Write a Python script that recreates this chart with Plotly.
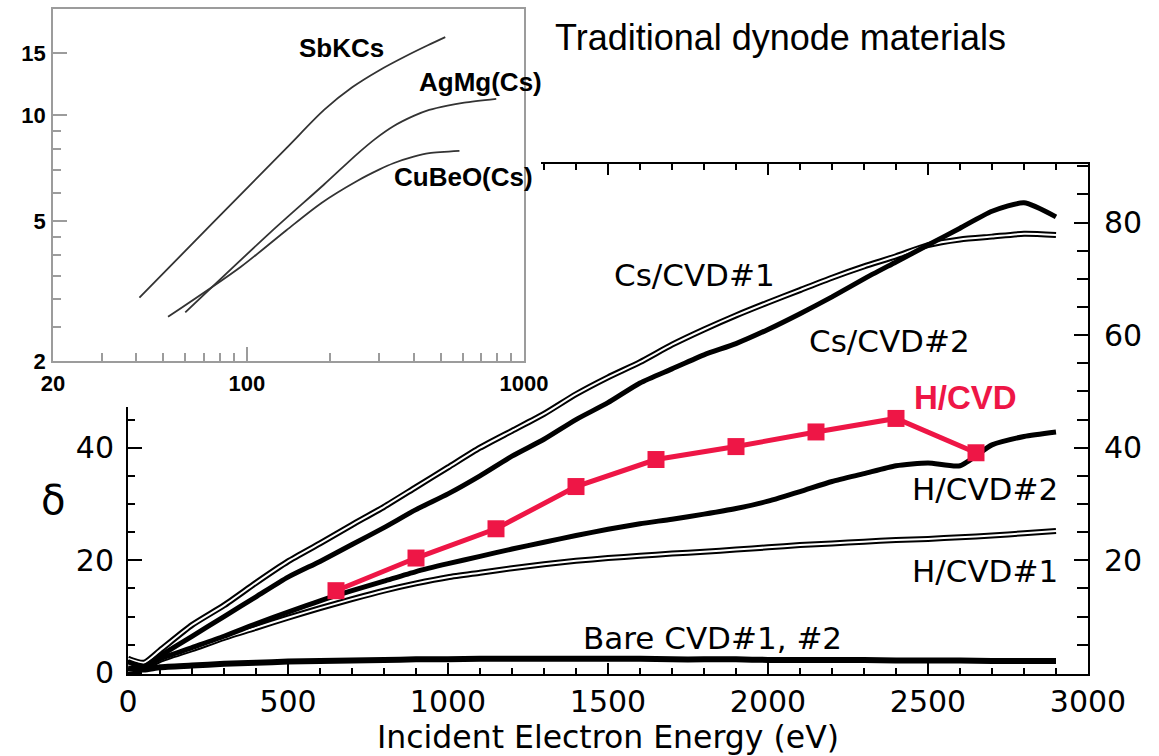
import plotly.graph_objects as go

W, H = 1159, 756

# ---------------- main chart data ----------------
energy = [0, 50, 100, 200, 300, 400, 500, 600, 700, 800, 900, 1000, 1100, 1200, 1300,
          1400, 1500, 1600, 1700, 1800, 1900, 2000, 2100, 2200, 2300, 2400, 2500,
          2600, 2700, 2800, 2900]

cs_cvd1 = [2.5, 1.8, 4.0, 8.5, 12.0, 16.0, 19.8, 23.0, 26.3, 29.5, 33.0, 36.5, 40.0, 43.0,
           46.0, 49.5, 52.5, 55.2, 58.3, 61.0, 63.5, 65.8, 68.0, 70.2, 72.2, 74.0, 76.0,
           77.0, 77.5, 78.0, 77.8]
cs_cvd2 = [2.0, 1.2, 3.0, 6.5, 10.0, 13.5, 17.0, 19.8, 22.8, 25.8, 29.0, 31.8, 35.0, 38.5,
           41.5, 45.0, 48.0, 51.5, 54.0, 56.5, 58.5, 61.0, 63.8, 66.8, 70.0, 73.0, 76.0,
           79.0, 82.0, 83.5, 81.0]
h_cvd2 = [2.0, 1.0, 2.5, 4.5, 6.5, 8.7, 10.8, 12.8, 14.6, 16.3, 18.0, 19.4, 20.7, 22.0,
          23.2, 24.4, 25.5, 26.5, 27.3, 28.2, 29.2, 30.5, 32.2, 34.0, 35.4, 36.8, 37.3,
          36.8, 40.5, 42.0, 42.8]
h_cvd1 = [2.5, 1.0, 2.3, 4.2, 6.2, 8.0, 9.8, 11.5, 13.1, 14.6, 15.9, 17.0, 17.8, 18.6,
          19.3, 19.9, 20.4, 20.8, 21.2, 21.5, 21.9, 22.3, 22.7, 23.0, 23.3, 23.6, 23.8,
          24.1, 24.4, 24.8, 25.2]
bare_cvd = [0.8, 0.6, 1.0, 1.3, 1.6, 1.8, 2.0, 2.1, 2.2, 2.3, 2.4, 2.4, 2.5, 2.5, 2.5,
            2.5, 2.5, 2.5, 2.4, 2.4, 2.4, 2.3, 2.3, 2.3, 2.3, 2.2, 2.2, 2.2, 2.1, 2.1, 2.1]

h_energy = [650, 900, 1150, 1400, 1650, 1900, 2150, 2400, 2650]
h_cvd = [14.6, 20.4, 25.6, 33.1, 37.9, 40.2, 42.8, 45.2, 39.1]

x_major_ticks = [0, 500, 1000, 1500, 2000, 2500, 3000]
y_left_ticks = [0, 20, 40]
y_left_minor = [5, 10, 15, 25, 30, 35, 45]
y_right_ticks = [20, 40, 60, 80]
y_right_minor = [5, 10, 15, 25, 30, 35, 45, 50, 55, 65, 70, 75, 85, 90]

# ---------------- inset data (traditional dynode materials) ----------------
sbkcs_e = [41, 76, 139, 190, 240, 300, 380, 450, 520]
sbkcs = [3.03, 4.97, 8.06, 10.35, 12.0, 13.4, 14.8, 15.8, 16.67]
agmg_e = [60, 122, 190, 250, 290, 338, 400, 455, 530, 609, 794]
agmg = [2.75, 4.65, 6.35, 7.75, 8.55, 9.3, 9.95, 10.35, 10.65, 10.85, 11.12]
cubeo_e = [52, 95, 139, 186, 250, 300, 338, 400, 455, 585]
cubeo = [2.67, 3.70, 4.71, 5.63, 6.50, 7.0, 7.3, 7.62, 7.8, 7.92]

inset_x_ticks = [20, 100, 1000]
inset_x_minor = [30, 40, 50, 60, 70, 80, 90, 200, 300, 400, 500, 600, 700, 800, 900]
inset_y_ticks = [2, 5, 10, 15]
inset_y_minor = [2.5, 3, 3.5, 4, 4.5, 6, 7, 8, 9]


def fx(p):
    return p / W


def fy(p):
    return 1 - p / H


RED = "#EE1646"
BLACK = "black"
GREY = "#9c9c9c"
INK = "#333333"

fig = go.Figure()


def hollow(xv, yv, yaxis):
    fig.add_trace(go.Scatter(x=xv, y=yv, mode="lines", yaxis=yaxis,
                             line=dict(color=BLACK, width=6, shape="spline", smoothing=0.6),
                             hoverinfo="skip"))
    fig.add_trace(go.Scatter(x=xv, y=yv, mode="lines", yaxis=yaxis,
                             line=dict(color="white", width=2, shape="spline", smoothing=0.6),
                             hoverinfo="skip"))


def solid(xv, yv, yaxis, w=5):
    fig.add_trace(go.Scatter(x=xv, y=yv, mode="lines", yaxis=yaxis,
                             line=dict(color=BLACK, width=w, shape="spline", smoothing=0.6),
                             hoverinfo="skip"))


hollow(energy, cs_cvd1, "y2")
solid(energy, cs_cvd2, "y2")
hollow(energy, h_cvd1, "y")
solid(energy, h_cvd2, "y")
solid(energy, bare_cvd, "y", w=6)

fig.add_trace(go.Scatter(x=h_energy, y=h_cvd, mode="lines+markers", yaxis="y",
                         line=dict(color=RED, width=5),
                         marker=dict(symbol="square", size=17, color=RED),
                         hoverinfo="skip"))

# white cover subplot (the pasted inset's white background)
fig.add_trace(go.Scatter(x=[None], y=[None], xaxis="x3", yaxis="y3", mode="lines",
                         hoverinfo="skip"))

# inset curves
for xe, yv in [(sbkcs_e, sbkcs), (agmg_e, agmg), (cubeo_e, cubeo)]:
    fig.add_trace(go.Scatter(x=xe, y=yv, mode="lines", xaxis="x4", yaxis="y4",
                             line=dict(color=INK, width=1.8, shape="spline", smoothing=0.8),
                             hoverinfo="skip"))

main_font = dict(family="DejaVu Sans", size=30, color=BLACK)
inset_font = dict(family="Liberation Sans", size=22, color=BLACK, weight="bold")

fig.update_layout(
    width=W, height=H,
    margin=dict(l=0, r=0, t=0, b=0, autoexpand=False),
    paper_bgcolor="white", plot_bgcolor="white",
    showlegend=False,
    font=dict(family="DejaVu Sans", color=BLACK),
    xaxis=dict(
        domain=[fx(128), fx(1088)], range=[0, 3000], anchor="y", automargin=False,
        showline=True, linecolor=BLACK, linewidth=2, mirror="ticks",
        ticks="inside", ticklen=11, tickwidth=2, tickcolor=BLACK,
        tickmode="array", tickvals=x_major_ticks, tickfont=main_font,
        ticklabelstandoff=0,
        minor=dict(dtick=100, tick0=0, ticks="inside", ticklen=6, tickwidth=1.5,
                   tickcolor=BLACK, showgrid=False),
        showgrid=False, zeroline=False,
        title=dict(text="Incident Electron Energy (eV)",
                   font=dict(family="DejaVu Sans", size=31.5, color=BLACK), standoff=6),
    ),
    yaxis=dict(
        domain=[1 - 674 / H, 1 - 164 / H], range=[-0.2, 90.4], anchor="x", automargin=False,
        showline=True, linecolor=BLACK, linewidth=2,
        ticks="inside", ticklen=14, tickwidth=2, tickcolor=BLACK,
        tickmode="array", tickvals=y_left_ticks, tickfont=main_font,
        ticklabelstandoff=6,
        minor=dict(tickmode="array", tickvals=y_left_minor, ticks="inside", ticklen=7,
                   tickwidth=1.5, tickcolor=BLACK, showgrid=False),
        showgrid=False, zeroline=False,
    ),
    yaxis2=dict(
        overlaying="y", side="right", range=[-0.2, 90.4], anchor="x", automargin=False,
        showline=True, linecolor=BLACK, linewidth=2,
        ticks="inside", ticklen=14, tickwidth=2, tickcolor=BLACK,
        tickmode="array", tickvals=y_right_ticks, tickfont=main_font,
        ticklabelstandoff=8,
        minor=dict(tickmode="array", tickvals=y_right_minor, ticks="inside", ticklen=11,
                   tickwidth=1.5, tickcolor=BLACK, showgrid=False),
        showgrid=False, zeroline=False,
    ),
    xaxis3=dict(domain=[0, fx(541)], range=[0, 1], anchor="y3", visible=False,
                fixedrange=True, automargin=False),
    yaxis3=dict(domain=[fy(407), 1], range=[0, 1], anchor="x3", visible=False,
                fixedrange=True, automargin=False),
    xaxis4=dict(
        type="log", domain=[fx(53), fx(524)], range=[1.30103, 3.0], anchor="y4",
        automargin=False,
        showline=True, mirror=True, linecolor=GREY, linewidth=1.6,
        ticks="inside", ticklen=14, tickwidth=1.5, tickcolor=GREY,
        tickmode="array", tickvals=inset_x_ticks, ticktext=["20", "100", "1000"],
        tickfont=inset_font, ticklabelstandoff=2,
        minor=dict(tickmode="array", tickvals=inset_x_minor, ticks="inside", ticklen=8,
                   tickwidth=1.5, tickcolor=GREY, showgrid=False),
        showgrid=False, zeroline=False,
    ),
    yaxis4=dict(
        type="log", domain=[fy(361), fy(9.3)], range=[0.30103, 1.30103], anchor="x4",
        automargin=False,
        showline=True, mirror=True, linecolor=GREY, linewidth=1.6,
        ticks="inside", ticklen=14, tickwidth=1.5, tickcolor=GREY,
        tickmode="array", tickvals=inset_y_ticks, ticktext=["2", "5", "10", "15"],
        tickfont=inset_font, ticklabelstandoff=1,
        minor=dict(tickmode="array", tickvals=inset_y_minor, ticks="inside", ticklen=8,
                   tickwidth=1.5, tickcolor=GREY, showgrid=False),
        showgrid=False, zeroline=False,
    ),
)

label_font = dict(family="DejaVu Sans", size=31, color=BLACK)
inset_label_font = dict(family="Liberation Sans", size=26, color=BLACK, weight="bold")

annotations = [
    dict(text="Traditional dynode materials", x=fx(780), y=fy(37),
         font=dict(family="Liberation Sans", size=36, color=BLACK)),
    dict(text="SbKCs", x=fx(341), y=fy(48), font=inset_label_font),
    dict(text="AgMg(Cs)", x=fx(480), y=fy(82), font=inset_label_font),
    dict(text="CuBeO(Cs)", x=fx(463), y=fy(177), font=inset_label_font),
    dict(text="Cs/CVD#1", x=fx(694), y=fy(275), font=label_font),
    dict(text="Cs/CVD#2", x=fx(889), y=fy(341), font=label_font),
    dict(text="H/CVD", x=fx(965), y=fy(397),
         font=dict(family="Liberation Sans", size=33, color=RED, weight="bold")),
    dict(text="H/CVD#2", x=fx(985), y=fy(489), font=label_font),
    dict(text="H/CVD#1", x=fx(985), y=fy(571), font=label_font),
    dict(text="Bare CVD#1, #2", x=fx(712), y=fy(638), font=label_font),
    dict(text="δ", x=fx(53), y=fy(500), font=dict(family="DejaVu Sans", size=40, color=BLACK)),
]
for a in annotations:
    a.update(xref="paper", yref="paper", showarrow=False, xanchor="center", yanchor="middle")
fig.update_layout(annotations=annotations)

fig.write_html("out.html")
